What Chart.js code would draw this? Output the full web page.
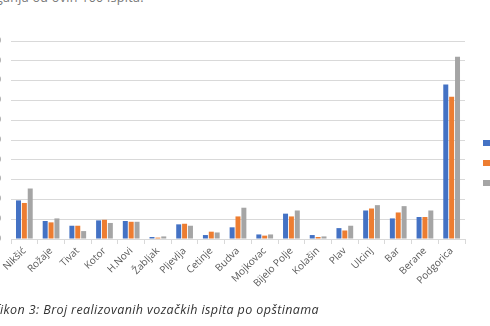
<!DOCTYPE html>
<html>
<head>
<meta charset="utf-8">
<script src="https://cdn.jsdelivr.net/npm/chart.js@4.4.1/dist/chart.umd.min.js"></script>
<style>
    html, body {
        margin: 0;
        padding: 0;
        width: 490px;
        height: 326px;
        overflow: hidden;
        background: #ffffff;
        position: relative;
        font-family: "Open Sans", sans-serif;
    }
    #chartBox {
        position: absolute;
        left: -39px;
        top: 0;
    }
    .intro {
        position: absolute;
        top: -11px;
        left: -4px;
        font-size: 12.5px;
        letter-spacing: 0.3px;
        color: #777;
        white-space: nowrap;
    }
    .caption {
        position: absolute;
        top: 301px;
        left: -27px;
        font-size: 12.5px;
        letter-spacing: 0.4px;
        font-style: italic;
        color: #333;
        white-space: nowrap;
    }
</style>
</head>
<body>
<div class="intro">ganja od ovih 100 ispita.</div>
<div id="chartBox"><canvas id="examChart" width="589" height="326"></canvas></div>
<div class="caption" id="caption"><span id="capHead">Graf</span>ikon 3: Broj realizovanih vozačkih ispita po opštinama</div>

<script>
// Municipalities along the x axis
const opstine = ['Nikšić', 'Rožaje', 'Tivat', 'Kotor', 'H.Novi', 'Žabljak', 'Pljevlja', 'Cetinje',
    'Budva', 'Mojkovac', 'Bijelo Polje', 'Kolašin', 'Plav', 'Ulcinj', 'Bar', 'Berane', 'Podgorica'];

// Number of exams per year
const god2019 = [195, 91, 67, 94, 91, 10, 74, 20, 59, 23, 128, 20, 55, 144, 104, 111, 780];
const god2020 = [182, 84, 67, 97, 87, 7, 77, 37, 114, 17, 114, 10, 43, 154, 134, 111, 719];
const god2021 = [255, 104, 40, 81, 87, 13, 67, 33, 158, 23, 144, 13, 67, 171, 166, 144, 921];

const yMax = 1000;
const yStep = 100;

const colors = ['#4472C4', '#ED7D31', '#A5A5A5'];

// Legend drawn by hand so it sits next to the plot like the Excel one
const sideLegend = {
    id: 'sideLegend',
    afterDraw(chart) {
        const ctx = chart.ctx;
        const x = chart.chartArea.right + 18;
        const midY = chart.height / 2;
        ctx.save();
        ctx.font = '12px "Open Sans"';
        ctx.textBaseline = 'middle';
        chart.data.datasets.forEach((ds, i) => {
            const y = midY + (i - 1) * 20;
            ctx.fillStyle = ds.backgroundColor;
            ctx.fillRect(x, y - 3, 7, 6);
            ctx.fillStyle = '#595959';
            ctx.fillText(ds.label, x + 12, y);
        });
        ctx.restore();
    }
};

function initializeChart() {
    // shift the caption so its first letters run off the left edge
    const head = document.getElementById('capHead');
    document.getElementById('caption').style.left = (-head.offsetWidth) + 'px';

    const ctx = document.getElementById('examChart').getContext('2d');
    new Chart(ctx, {
        type: 'bar',
        data: {
            labels: opstine,
            datasets: [
                { label: '2019', data: god2019, backgroundColor: colors[0] },
                { label: '2020', data: god2020, backgroundColor: colors[1] },
                { label: '2021', data: god2021, backgroundColor: colors[2] }
            ]
        },
        options: {
            responsive: false,
            animation: false,
            categoryPercentage: 0.66,
            barPercentage: 0.85,
            layout: {
                padding: { top: 41, right: 85, bottom: 0, left: 0 }
            },
            plugins: {
                legend: { display: false },
                tooltip: { enabled: false }
            },
            scales: {
                x: {
                    afterFit: (scale) => { scale.height = 87; },
                    grid: {
                        offset: true,
                        drawOnChartArea: false,
                        tickLength: 5,
                        color: '#d9d9d9'
                    },
                    border: { color: '#d9d9d9' },
                    ticks: {
                        minRotation: 45,
                        maxRotation: 45,
                        padding: 1,
                        color: '#595959',
                        font: { family: 'Open Sans', size: 10 }
                    }
                },
                y: {
                    min: 0,
                    max: yMax,
                    afterFit: (scale) => { scale.width = 50; },
                    grid: {
                        color: '#d9d9d9',
                        drawTicks: false
                    },
                    border: { display: false },
                    ticks: {
                        stepSize: yStep,
                        padding: 10,
                        color: '#595959',
                        font: { family: 'Open Sans', size: 10 }
                    }
                }
            }
        },
        plugins: [sideLegend]
    });
}

window.onload = initializeChart;
</script>
</body>
</html>
